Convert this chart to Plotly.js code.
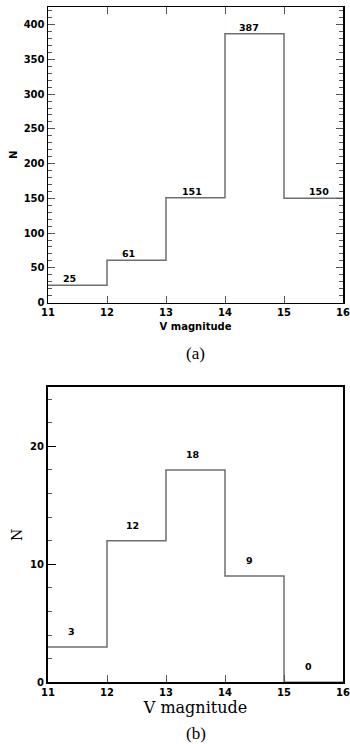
<!DOCTYPE html>
<html>
<head>
<meta charset="utf-8">
<script src="https://cdn.plot.ly/plotly-3.0.1.min.js"></script>
<style>
html,body{margin:0;padding:0;background:#fff;}
#chart{width:350px;height:744px;}
</style>
</head>
<body>
<div id="chart"></div>
<script>
// ---- data ----
var binEdges = [11, 12, 13, 14, 15, 16];
var countsA = [25, 61, 151, 387, 150];
var countsB = [3, 12, 18, 9, 0];
var xTickVals = [11, 12, 13, 14, 15, 16];

// ---- styling (positions of count labels within each bin) ----
var labelDxA = [0.37, 0.36, 0.44, 0.41, 0.6];
var labelDxB = [0.40, 0.44, 0.46, 0.41, 0.41];
var stepColor = '#6e6e6e';
var sansFont = 'DejaVu Sans, Verdana, sans-serif';
var serifA = 'Liberation Serif, Times New Roman, serif';
var serifB = 'DejaVu Serif, Georgia, serif';

function stepY(counts) {
  return counts.concat([counts[counts.length - 1]]);
}

var traces = [
  {
    x: binEdges, y: stepY(countsA), type: 'scatter', mode: 'lines',
    line: {shape: 'hv', color: stepColor, width: 1.5},
    xaxis: 'x', yaxis: 'y', hoverinfo: 'skip', showlegend: false
  },
  {
    x: binEdges, y: stepY(countsB), type: 'scatter', mode: 'lines',
    line: {shape: 'hv', color: stepColor, width: 1.5},
    xaxis: 'x2', yaxis: 'y2', hoverinfo: 'skip', showlegend: false
  }
];

var labelFont = {family: sansFont, size: 9.5, color: '#000', weight: 'bold'};
var annotations = [];
countsA.forEach(function (c, i) {
  annotations.push({
    x: binEdges[i] + labelDxA[i], y: c, xref: 'x', yref: 'y',
    text: String(c), showarrow: false, yanchor: 'bottom', yshift: -1,
    font: labelFont
  });
});
countsB.forEach(function (c, i) {
  annotations.push({
    x: binEdges[i] + labelDxB[i], y: c, xref: 'x2', yref: 'y2',
    text: String(c), showarrow: false, yanchor: 'bottom', yshift: 8,
    font: labelFont
  });
});
annotations.push({
  x: 0.5586, y: 1 - 353 / 744, xref: 'paper', yref: 'paper', yanchor: 'middle',
  text: '(a)', showarrow: false,
  font: {family: serifA, size: 17, color: '#000'}
});
annotations.push({
  x: 0.5586, y: 1 - 733 / 744, xref: 'paper', yref: 'paper', yanchor: 'middle',
  text: '(b)', showarrow: false,
  font: {family: serifA, size: 17, color: '#000'}
});

var tickFont = {family: sansFont, size: 10, color: '#000', weight: 'bold'};

var layout = {
  width: 350, height: 744,
  margin: {l: 0, r: 0, t: 0, b: 0},
  paper_bgcolor: '#fff', plot_bgcolor: '#fff',
  showlegend: false,
  xaxis: {
    domain: [48 / 350, 343 / 350], anchor: 'y',
    range: [11, 16], tickvals: xTickVals, ticktext: xTickVals.map(String),
    ticks: 'inside', ticklen: 7, tickwidth: 1, tickcolor: '#555',
    showline: true, linecolor: '#000', linewidth: 1.5, mirror: 'allticks',
    showgrid: false, zeroline: false, tickfont: tickFont,
    title: {text: 'V magnitude', standoff: 6,
      font: {family: sansFont, size: 10, color: '#000', weight: 'bold'}}
  },
  yaxis: {
    domain: [1 - 302.5 / 744, 1 - 7 / 744], anchor: 'x',
    range: [0, 425.5], dtick: 50, tick0: 0,
    ticks: 'inside', ticklen: 7, tickwidth: 1, tickcolor: '#555',
    minor: {dtick: 10, ticks: 'inside', ticklen: 4, tickcolor: '#555', tickwidth: 1, showgrid: false},
    showline: true, linecolor: '#000', linewidth: 1.5, mirror: 'allticks',
    showgrid: false, zeroline: false, tickfont: tickFont,
    title: {text: 'N', standoff: 4,
      font: {family: sansFont, size: 10, color: '#000', weight: 'bold'}}
  },
  xaxis2: {
    domain: [48 / 350, 343 / 350], anchor: 'y2',
    range: [11, 16], tickvals: xTickVals, ticktext: xTickVals.map(String),
    ticks: 'inside', ticklen: 7, tickwidth: 1, tickcolor: '#555',
    showline: true, linecolor: '#000', linewidth: 2, mirror: true,
    showgrid: false, zeroline: false, tickfont: tickFont,
    title: {text: 'V magnitude', standoff: 1,
      font: {family: serifB, size: 16, color: '#000'}}
  },
  yaxis2: {
    domain: [1 - 682.3 / 744, 1 - 387.3 / 744], anchor: 'x2',
    range: [0, 25], dtick: 10, tick0: 0,
    ticks: 'inside', ticklen: 8, tickwidth: 1, tickcolor: '#000',
    minor: {dtick: 2, ticks: 'inside', ticklen: 3.5, tickcolor: '#555', tickwidth: 1, showgrid: false},
    showline: true, linecolor: '#000', linewidth: 2, mirror: true,
    showgrid: false, zeroline: false, tickfont: tickFont,
    title: {text: 'N', standoff: 4,
      font: {family: serifB, size: 14, color: '#000'}}
  },
  annotations: annotations
};

Plotly.newPlot('chart', traces, layout, {staticPlot: true, displayModeBar: false});
</script>
</body>
</html>
